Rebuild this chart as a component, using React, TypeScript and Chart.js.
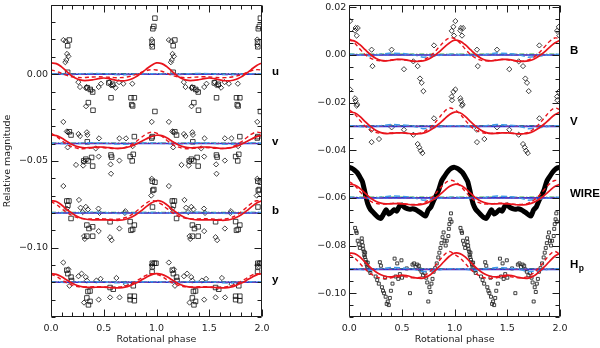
import React, { useEffect, useRef } from "react";
import { Chart, registerables } from "chart.js";

Chart.register(...registerables);

// ---------------- axes ----------------
const xTickValues = [0, 0.5, 1, 1.5, 2];
const leftYTickValues = [-0.1, -0.05, 0];
const rightYTickValues = [-0.1, -0.08, -0.06, -0.04, -0.02, 0, 0.02];
const leftYRange = [-0.14, 0.04];
const rightYRange = [-0.11, 0.021];
const xTitle = "Rotational phase";
const yTitle = "Relative magnitude";

// ---------------- bands ----------------
const leftBandNames = ["u", "v", "b", "y"];
const leftBaselines = [0, -0.04, -0.08, -0.12];
const rightBandNames = ["B", "V", "WIRE", "Hp"];
const rightBaselines = [0, -0.03, -0.06, -0.09];

// ---------------- model curves (relative to band baseline, one rotation) ----------------
const curvePhases = [0, 0.05, 0.1, 0.15, 0.2, 0.25, 0.3, 0.35, 0.4, 0.45, 0.5, 0.55, 0.6, 0.65, 0.7, 0.75, 0.8, 0.85, 0.9, 0.95, 1];

const uSolid = [0.0065, 0.0061, 0.0042, 0.0015, -0.0011, -0.0028, -0.0036, -0.0036, -0.0032, -0.0026, -0.0022, -0.0026, -0.0033, -0.0038, -0.0038, -0.0031, -0.0017, 0.0004, 0.0028, 0.005, 0.0065];
const uDashed = [0.0024, 0.0017, 0.0005, -0.0007, -0.0015, -0.0019, -0.002, -0.0018, -0.0016, -0.0015, -0.0016, -0.0018, -0.002, -0.002, -0.0018, -0.0012, -0.0003, 0.0009, 0.002, 0.0026, 0.0024];
const vSolid = [0.0048, 0.0046, 0.0032, 0.0012, -0.0006, -0.0018, -0.0023, -0.0024, -0.0022, -0.002, -0.0021, -0.0024, -0.0027, -0.0028, -0.0025, -0.0017, -0.0005, 0.001, 0.0026, 0.004, 0.0048];
const vDashed = [0.006, 0.0042, 0.0018, -0.0004, -0.0019, -0.0027, -0.003, -0.0028, -0.0025, -0.0023, -0.0024, -0.0027, -0.0029, -0.0028, -0.0022, -0.001, 0.0008, 0.0032, 0.0054, 0.0066, 0.006];
const bSolid = [0.007, 0.0066, 0.0046, 0.002, -0.0002, -0.002, -0.0032, -0.0038, -0.004, -0.004, -0.004, -0.0041, -0.0042, -0.0042, -0.0038, -0.0028, -0.0012, 0.001, 0.0035, 0.0057, 0.007];
const bDashed = [0.0066, 0.0049, 0.0025, 0.0002, -0.0015, -0.0027, -0.0033, -0.0035, -0.0034, -0.0033, -0.0034, -0.0036, -0.0037, -0.0035, -0.0028, -0.0015, 0.0005, 0.003, 0.0055, 0.007, 0.0066];
const ySolid = [0.005, 0.0046, 0.0032, 0.0013, -0.0005, -0.0018, -0.0026, -0.0029, -0.0029, -0.0028, -0.0028, -0.003, -0.0032, -0.0032, -0.0028, -0.0019, -0.0006, 0.001, 0.0028, 0.0043, 0.005];
const yDashed = [0.0046, 0.0034, 0.0015, -0.0003, -0.0016, -0.0024, -0.0027, -0.0027, -0.0026, -0.0025, -0.0026, -0.0028, -0.0029, -0.0027, -0.0021, -0.001, 0.0005, 0.0022, 0.004, 0.005, 0.0046];

const BSolid = [0.0062, 0.0058, 0.0043, 0.0022, 0.0002, -0.0014, -0.0023, -0.0025, -0.0022, -0.0019, -0.0019, -0.0022, -0.0026, -0.0027, -0.0025, -0.0018, -0.0005, 0.0012, 0.0032, 0.005, 0.0062];
const BDashed = [0.0068, 0.005, 0.0025, 0.0002, -0.0013, -0.0022, -0.0025, -0.0024, -0.0021, -0.0019, -0.002, -0.0023, -0.0026, -0.0026, -0.0021, -0.001, 0.0008, 0.0032, 0.0056, 0.0071, 0.0068];
const VSolid = [0.006, 0.0057, 0.0042, 0.002, 0, -0.0016, -0.0026, -0.003, -0.0029, -0.0027, -0.0027, -0.0029, -0.0031, -0.0031, -0.0028, -0.002, -0.0007, 0.001, 0.003, 0.0049, 0.006];
const VDashed = [0.007, 0.0052, 0.0026, 0.0002, -0.0015, -0.0025, -0.0029, -0.0029, -0.0027, -0.0026, -0.0027, -0.0029, -0.0031, -0.003, -0.0024, -0.0011, 0.0009, 0.0035, 0.0061, 0.0077, 0.007];
const WIRESolid = [0.0057, 0.0054, 0.004, 0.002, 0, -0.0014, -0.0022, -0.0025, -0.0025, -0.0024, -0.0025, -0.0027, -0.0029, -0.0029, -0.0026, -0.0019, -0.0007, 0.001, 0.0029, 0.0048, 0.0057];
const WIREDashed = [0.0069, 0.0052, 0.0027, 0.0003, -0.0014, -0.0023, -0.0026, -0.0025, -0.0023, -0.0022, -0.0023, -0.0026, -0.0028, -0.0027, -0.0022, -0.001, 0.0009, 0.0034, 0.0058, 0.0073, 0.0069];
const HpSolid = [0.0068, 0.0066, 0.0052, 0.003, 0.0008, -0.001, -0.0023, -0.003, -0.0031, -0.0027, -0.0024, -0.0027, -0.0033, -0.0037, -0.0037, -0.0028, -0.0011, 0.001, 0.0033, 0.0055, 0.0068];
const HpDashed = [0.0062, 0.0048, 0.0025, 0.0001, -0.0017, -0.003, -0.0037, -0.0038, -0.0035, -0.0031, -0.003, -0.0032, -0.0035, -0.0035, -0.0029, -0.0015, 0.0007, 0.0034, 0.006, 0.0075, 0.0062];

// other (nearly constant) models
const ripplePhases = [0, 0.1, 0.2, 0.3, 0.4, 0.5, 0.6, 0.7, 0.8, 0.9, 1];
const leftRipple = [0.0002, 0, -0.0003, 0.0002, 0.0004, 0.0003, -0.0002, -0.0004, 0, 0.0003, 0.0002];
const rightRipple = [0.0003, 0, -0.0004, 0.0003, 0.0008, 0.0006, 0.0002, -0.001, -0.0006, 0.0001, 0.0003];
const greenOffset = 0.0003;

// ---------------- observations (one rotation, absolute values) ----------------
const uDiamonds = [[0.117, 0.0197], [0.14, 0.019], [0.152, 0.0117], [0.165, 0.0103], [0.145, 0.0082], [0.136, 0.0069], [0.259, -0.0046], [0.275, -0.0074], [0.332, -0.008], [0.338, -0.0074], [0.385, -0.0094], [0.452, -0.0074], [0.474, -0.0055], [0.553, -0.0046], [0.569, -0.0065], [0.59, -0.0065], [0.612, -0.0078], [0.645, -0.0046], [0.686, -0.0055], [0.771, -0.0055], [0.332, -0.0185], [0.955, 0.02], [0.955, 0.0168]];
const uSquares = [[0.174, 0.0197], [0.158, 0.0164], [0.158, 0.0011], [0.344, -0.0078], [0.372, -0.0088], [0.395, -0.0103], [0.354, -0.0164], [0.398, -0.0208], [0.548, -0.005], [0.585, -0.0058], [0.569, -0.0136], [0.758, -0.0136], [0.79, -0.0136], [0.774, -0.0183], [0.765, -0.0176], [0.985, 0.0323], [0.975, 0.0275], [0.965, 0.0262], [0.958, 0.0185], [0.96, 0.0158]];
const vDiamonds = [[0.117, -0.0275], [0.16, -0.0335], [0.15, -0.033], [0.158, -0.0422], [0.275, -0.0357], [0.26, -0.0345], [0.34, -0.0335], [0.345, -0.035], [0.237, -0.0523], [0.313, -0.0504], [0.305, -0.0527], [0.452, -0.0475], [0.424, -0.0428], [0.455, -0.037], [0.569, -0.0574], [0.565, -0.052], [0.648, -0.0498], [0.648, -0.037], [0.711, -0.037], [0.774, -0.0415], [0.955, -0.0275]];
const vSquares = [[0.174, -0.0332], [0.19, -0.0351], [0.31, -0.05], [0.33, -0.049], [0.354, -0.05], [0.395, -0.053], [0.385, -0.048], [0.344, -0.039], [0.568, -0.0466], [0.575, -0.0478], [0.75, -0.0475], [0.78, -0.0462], [0.79, -0.036], [0.77, -0.05], [0.96, -0.036], [0.955, -0.0368], [0.985, -0.0215]];
const bDiamonds = [[0.117, -0.0645], [0.15, -0.0775], [0.265, -0.0725], [0.28, -0.077], [0.33, -0.0765], [0.35, -0.078], [0.3, -0.0795], [0.313, -0.0934], [0.32, -0.095], [0.452, -0.0905], [0.45, -0.0775], [0.46, -0.08], [0.56, -0.094], [0.575, -0.0957], [0.648, -0.089], [0.7, -0.08], [0.705, -0.079], [0.955, -0.0603], [0.95, -0.07]];
const bSquares = [[0.15, -0.0731], [0.17, -0.0731], [0.16, -0.0756], [0.19, -0.0832], [0.34, -0.087], [0.36, -0.089], [0.395, -0.088], [0.34, -0.0934], [0.395, -0.0934], [0.56, -0.0851], [0.75, -0.085], [0.79, -0.087], [0.758, -0.09], [0.774, -0.0895], [0.96, -0.0617], [0.985, -0.0623], [0.965, -0.067], [0.975, -0.0665], [0.962, -0.0766]];
const yDiamonds = [[0.117, -0.1086], [0.165, -0.1125], [0.175, -0.122], [0.26, -0.1165], [0.29, -0.115], [0.33, -0.117], [0.34, -0.119], [0.313, -0.1317], [0.452, -0.13], [0.43, -0.119], [0.47, -0.118], [0.56, -0.1287], [0.65, -0.1287], [0.62, -0.1175], [0.71, -0.121], [0.955, -0.11]];
const ySquares = [[0.15, -0.113], [0.16, -0.115], [0.19, -0.117], [0.195, -0.119], [0.35, -0.1253], [0.37, -0.125], [0.34, -0.129], [0.37, -0.131], [0.355, -0.133], [0.56, -0.123], [0.59, -0.124], [0.75, -0.128], [0.79, -0.128], [0.75, -0.13], [0.79, -0.1306], [0.78, -0.122], [0.96, -0.109], [0.98, -0.109], [0.995, -0.109], [0.96, -0.111], [0.958, -0.114]];

const BDiamonds = [[0.007, 0.0142], [0.054, 0.0102], [0.06, 0.0113], [0.08, 0.0113], [0.07, 0.0081], [0.212, 0.0022], [0.22, -0.0047], [0.402, 0.0022], [0.519, -0.006], [0.608, -0.0027], [0.649, -0.0047], [0.671, -0.0099], [0.687, -0.0117], [0.703, -0.0152], [0.804, 0.004], [0.972, 0.0101], [0.988, 0.0118], [0.994, 0.0081]];
const VDiamonds = [[0.007, -0.0145], [0.054, -0.0182], [0.06, -0.0193], [0.075, -0.0207], [0.07, -0.0213], [0.21, -0.0314], [0.212, -0.0366], [0.282, -0.0353], [0.402, -0.0304], [0.519, -0.0314], [0.608, -0.0335], [0.649, -0.0374], [0.665, -0.0388], [0.678, -0.0402], [0.694, -0.0412], [0.804, -0.0266], [0.972, -0.0175], [0.988, -0.0155], [0.975, -0.019]];

const wirePhases = [0, 0.025, 0.05, 0.075, 0.1, 0.125, 0.15, 0.175, 0.2, 0.225, 0.25, 0.275, 0.3, 0.325, 0.35, 0.375, 0.4, 0.425, 0.45, 0.475, 0.5, 0.525, 0.55, 0.575, 0.6, 0.625, 0.65, 0.675, 0.7, 0.725, 0.75, 0.775, 0.8, 0.825, 0.85, 0.875, 0.9, 0.925, 0.95, 0.975, 1];
const wireMags = [-0.0472, -0.0476, -0.0484, -0.0494, -0.0512, -0.0532, -0.058, -0.0625, -0.0648, -0.066, -0.0672, -0.0682, -0.0686, -0.0668, -0.065, -0.0668, -0.066, -0.065, -0.0656, -0.0636, -0.063, -0.064, -0.0645, -0.0648, -0.0646, -0.0648, -0.0655, -0.0662, -0.067, -0.0676, -0.065, -0.0638, -0.0612, -0.059, -0.0565, -0.053, -0.0512, -0.0495, -0.0482, -0.0474, -0.0472];

const HpSquares = [[0.055, -0.0726], [0.065, -0.074], [0.07, -0.0747], [0.08, -0.078], [0.09, -0.0795], [0.1, -0.081], [0.118, -0.077], [0.122, -0.0785], [0.128, -0.08], [0.132, -0.0815], [0.138, -0.0825], [0.142, -0.084], [0.148, -0.0848], [0.15, -0.083], [0.155, -0.086], [0.16, -0.087], [0.165, -0.088], [0.17, -0.089], [0.175, -0.0872], [0.18, -0.0895], [0.19, -0.0905], [0.2, -0.0915], [0.25, -0.093], [0.265, -0.0945], [0.28, -0.096], [0.29, -0.087], [0.3, -0.0885], [0.31, -0.0975], [0.32, -0.099], [0.33, -0.1], [0.34, -0.0935], [0.345, -0.1015], [0.355, -0.1045], [0.365, -0.1035], [0.375, -0.105], [0.385, -0.102], [0.395, -0.099], [0.41, -0.096], [0.43, -0.0855], [0.44, -0.093], [0.455, -0.0875], [0.465, -0.094], [0.48, -0.092], [0.495, -0.0862], [0.5, -0.0935], [0.545, -0.0896], [0.576, -0.1], [0.6, -0.088], [0.615, -0.0875], [0.63, -0.089], [0.645, -0.088], [0.66, -0.0885], [0.67, -0.09], [0.685, -0.091], [0.7, -0.0925], [0.715, -0.0915], [0.73, -0.0935], [0.74, -0.0955], [0.75, -0.1035], [0.76, -0.0975], [0.77, -0.0995], [0.78, -0.096], [0.79, -0.094], [0.8, -0.091], [0.815, -0.0895], [0.83, -0.0875], [0.845, -0.085], [0.855, -0.083], [0.865, -0.081], [0.875, -0.079], [0.885, -0.0765], [0.895, -0.0745], [0.905, -0.078], [0.915, -0.08], [0.925, -0.078], [0.94, -0.076], [0.945, -0.073], [0.95, -0.071], [0.958, -0.069], [0.965, -0.0665], [0.97, -0.07]];

// ---------------- styles ----------------
const RED = "#e8141c";
const BLUE = "#1f35d8";
const SKY = "#3f9be8";
const GREEN = "#3fae49";
const PURPLE = "#7b3aa8";
const INK = "#1c1c1c";
const FONT_FAMILY = "'DejaVu Sans', sans-serif";
const TICK_FONT = { family: FONT_FAMILY, size: 9.5 };

const cycles = [0, 1];

function foldCurve(phases: number[], rel: number[], base: number) {
  const pts: { x: number; y: number }[] = [];
  cycles.forEach((c) => {
    phases.forEach((p, i) => {
      if (c === 0 || i > 0) pts.push({ x: p + c, y: base + rel[i] });
    });
  });
  return pts;
}

function foldAbs(phases: number[], vals: number[]) {
  const pts: { x: number; y: number }[] = [];
  cycles.forEach((c) => {
    phases.forEach((p, i) => {
      if (c === 0 || i > 0) pts.push({ x: p + c, y: vals[i] });
    });
  });
  return pts;
}

function foldPoints(pairs: number[][]) {
  return cycles.flatMap((c) => pairs.map(([p, v]) => ({ x: p + c, y: v })));
}

function flat(v: number) {
  return [{ x: 0, y: v }, { x: 2, y: v }];
}

function lineSet(data: any, color: string, width: number, dash: number[], order: number, tension = 0.4) {
  return {
    data,
    showLine: true,
    borderColor: color,
    backgroundColor: color,
    borderWidth: width,
    borderDash: dash,
    pointRadius: 0,
    tension,
    fill: false,
    order,
  };
}

function pointSet(data: any, style: string, radius: number, width = 0.8, color = "#111") {
  return {
    data,
    showLine: false,
    pointStyle: style,
    pointRadius: radius,
    pointBorderWidth: width,
    pointBorderColor: color,
    pointBackgroundColor: "rgba(0,0,0,0)",
    order: 5,
  };
}

function bandModels(base: number, solid: number[], dashed: number[], ripple: number[]) {
  return [
    lineSet(foldCurve(ripplePhases, ripple, base), SKY, 1.5, [6, 3], 2, 0),
    lineSet(flat(base + greenOffset), GREEN, 1.2, [5, 2, 1, 2], 3, 0),
    lineSet(flat(base), BLUE, 1.6, [], 2, 0),
    lineSet(flat(base), PURPLE, 1.1, [1, 2, 4, 2], 1, 0),
    lineSet(foldCurve(curvePhases, dashed, base), RED, 1.4, [4, 3], 0),
    lineSet(foldCurve(curvePhases, solid, base), RED, 1.7, [], 0),
  ];
}

function fmt(v: number, digits: number) {
  const s = Math.abs(v).toFixed(digits);
  return (v < -1e-9 ? "\u2212" : "") + s;
}

// ---------------- plugins (frame, inward ticks, band labels) ----------------
const frameTicks = {
  id: "frameTicks",
  afterDatasetsDraw(chart: any, _args: any, opts: any) {
    const { ctx, chartArea: a, scales } = chart;
    const x = scales.x;
    const y = scales.y;
    ctx.save();
    ctx.strokeStyle = INK;
    ctx.lineWidth = 1;
    const L = Math.round(a.left) + 0.5;
    const R = Math.round(a.right) - 0.5;
    const T = Math.round(a.top) + 0.5;
    const B = Math.round(a.bottom) - 0.5;
    ctx.beginPath();
    ctx.rect(L, T, R - L, B - T);
    // x ticks
    const xs = opts.xMinor;
    for (let k = Math.ceil(x.min / xs - 1e-6); k * xs <= x.max + 1e-9; k++) {
      const v = k * xs;
      const major = opts.xMajor.some((m: number) => Math.abs(m - v) < 1e-6);
      const len = major ? 7 : 4;
      const px = Math.round(x.getPixelForValue(v)) + 0.5;
      ctx.moveTo(px, B);
      ctx.lineTo(px, B - len);
      ctx.moveTo(px, T);
      ctx.lineTo(px, T + len);
    }
    const ys = opts.yMinor;
    for (let k = Math.ceil(y.min / ys - 1e-6); k * ys <= y.max + 1e-9; k++) {
      const v = k * ys;
      const major = opts.yMajor.some((m: number) => Math.abs(m - v) < 1e-6);
      const len = major ? 7 : 4;
      const py = Math.round(y.getPixelForValue(v)) + 0.5;
      ctx.moveTo(L, py);
      ctx.lineTo(L + len, py);
      ctx.moveTo(R, py);
      ctx.lineTo(R - len, py);
    }
    ctx.stroke();
    ctx.restore();
  },
};

const bandLabels = {
  id: "bandLabels",
  afterDraw(chart: any, _args: any, opts: any) {
    const { ctx, chartArea: a, scales } = chart;
    const y = scales.y;
    ctx.save();
    ctx.fillStyle = "#000";
    ctx.textAlign = "left";
    ctx.textBaseline = "alphabetic";
    opts.names.forEach((name: string, i: number) => {
      const py = y.getPixelForValue(opts.bases[i]) + opts.dy;
      const px = a.right + 10;
      ctx.font = "bold 11.5px 'Liberation Sans', Arial, sans-serif";
      if (name === "Hp") {
        ctx.fillText("H", px, py);
        const w = ctx.measureText("H").width;
        ctx.font = "bold 8.5px 'Liberation Sans', Arial, sans-serif";
        ctx.fillText("p", px + w + 0.5, py + 3);
      } else {
        ctx.fillText(name, px, py);
      }
    });
    ctx.restore();
  },
};

function buildChart(canvas: HTMLCanvasElement, cfg: any) {
  return new Chart(canvas, {
    type: "scatter",
    data: { datasets: cfg.datasets },
    plugins: [frameTicks, bandLabels],
    options: {
      animation: false,
      responsive: false,
      maintainAspectRatio: false,
      devicePixelRatio: 1,
      layout: { padding: { left: 0, right: cfg.padRight, top: 2.5, bottom: 0 } },
      plugins: {
        legend: { display: false },
        tooltip: { enabled: false },
        frameTicks: { xMajor: xTickValues, xMinor: 0.1, yMajor: cfg.yTicks, yMinor: cfg.yMinor },
        bandLabels: { names: cfg.names, bases: cfg.bases, dy: cfg.labelDy },
      } as any,
      scales: {
        x: {
          type: "linear",
          min: 0,
          max: 2,
          grid: { display: false, drawTicks: false },
          border: { display: false },
          afterBuildTicks: (s: any) => {
            s.ticks = xTickValues.map((v) => ({ value: v }));
          },
          afterFit: (s: any) => {
            s.height = 31;
            s.paddingLeft = 0;
            s.paddingRight = 0;
          },
          ticks: {
            padding: 6,
            color: INK,
            font: TICK_FONT,
            autoSkip: false,
            minRotation: 0,
            maxRotation: 0,
            callback: (v: any) => fmt(Number(v), 1),
          },
          title: {
            display: true,
            text: xTitle,
            color: INK,
            font: TICK_FONT,
            padding: { top: 0, bottom: 2.6 },
          },
        },
        y: {
          type: "linear",
          min: cfg.range[0],
          max: cfg.range[1],
          grid: { display: false, drawTicks: false },
          border: { display: false },
          afterBuildTicks: (s: any) => {
            s.ticks = cfg.yTicks.map((v: number) => ({ value: v }));
          },
          afterFit: (s: any) => {
            s.width = cfg.yWidth;
            s.paddingTop = 0;
            s.paddingBottom = 0;
          },
          ticks: {
            padding: 3,
            color: INK,
            font: TICK_FONT,
            autoSkip: false,
            callback: (v: any) => fmt(Number(v), 2),
          },
          title: {
            display: cfg.showYTitle,
            text: yTitle,
            color: INK,
            font: TICK_FONT,
            padding: { top: 2, bottom: 0 },
          },
        },
      },
    } as any,
  });
}

function leftConfig() {
  const solids = [uSolid, vSolid, bSolid, ySolid];
  const dashes = [uDashed, vDashed, bDashed, yDashed];
  const diamonds = [uDiamonds, vDiamonds, bDiamonds, yDiamonds];
  const squares = [uSquares, vSquares, bSquares, ySquares];
  const datasets: any[] = [];
  leftBaselines.forEach((base, i) => {
    datasets.push(...bandModels(base, solids[i], dashes[i], leftRipple));
    datasets.push(pointSet(foldPoints(diamonds[i]), "rectRot", 2.6));
    datasets.push(pointSet(foldPoints(squares[i]), "rect", 3.2));
  });
  return {
    datasets,
    padRight: 38,
    yTicks: leftYTickValues,
    yMinor: 0.01,
    range: leftYRange,
    yWidth: 51,
    showYTitle: true,
    names: leftBandNames,
    bases: leftBaselines,
    labelDy: 1,
  };
}

function rightConfig() {
  const solids = [BSolid, VSolid, WIRESolid, HpSolid];
  const dashes = [BDashed, VDashed, WIREDashed, HpDashed];
  const datasets: any[] = [];
  datasets.push(pointSet(foldPoints(BDiamonds), "rectRot", 2.6));
  datasets.push(pointSet(foldPoints(VDiamonds), "rectRot", 2.6));
  datasets.push(pointSet(foldPoints(HpSquares), "rect", 2.1, 0.9, "#2a2a2a"));
  datasets.push({ ...lineSet(foldAbs(wirePhases, wireMags), "#000", 5, [], 4, 0.2), borderJoinStyle: "round", borderCapStyle: "round" });
  rightBaselines.forEach((base, i) => {
    datasets.push(...bandModels(base, solids[i], dashes[i], rightRipple));
  });
  return {
    datasets,
    padRight: 40,
    yTicks: rightYTickValues,
    yMinor: 0.005,
    range: rightYRange,
    yWidth: 49.3,
    showYTitle: false,
    names: rightBandNames,
    bases: rightBaselines,
    labelDy: -1,
  };
}

export default function App() {
  const leftRef = useRef<HTMLCanvasElement>(null);
  const rightRef = useRef<HTMLCanvasElement>(null);

  useEffect(() => {
    const c1 = buildChart(leftRef.current as HTMLCanvasElement, leftConfig());
    const c2 = buildChart(rightRef.current as HTMLCanvasElement, rightConfig());
    return () => {
      c1.destroy();
      c2.destroy();
    };
  }, []);

  return (
    <div style={{ position: "absolute", left: 0, top: 0, width: 600, height: 348, background: "#fff" }}>
      <canvas ref={leftRef} width={300} height={348} style={{ position: "absolute", left: 0, top: 0, width: 300, height: 348 }} />
      <canvas ref={rightRef} width={300} height={348} style={{ position: "absolute", left: 300, top: 0, width: 300, height: 348 }} />
    </div>
  );
}
